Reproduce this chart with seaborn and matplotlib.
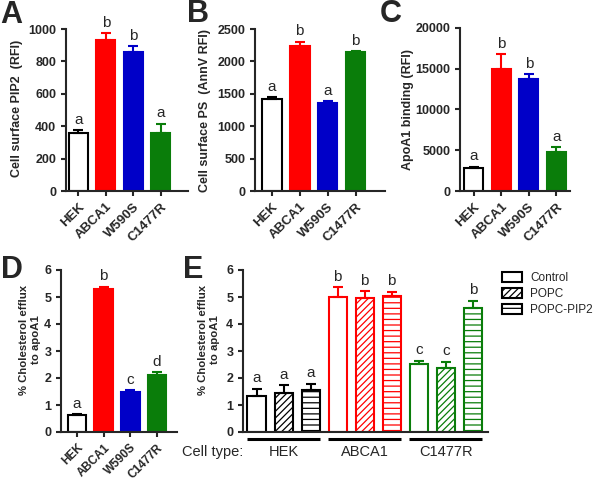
import matplotlib
matplotlib.use("Agg")
from matplotlib import pyplot as plt
from matplotlib.patches import Patch
import matplotlib.transforms as mtransforms
import seaborn as sns
import pandas as pd

# data
cells = ["HEK", "ABCA1", "W590S", "C1477R"]
pip2_mean = [360, 935, 855, 360]
pip2_err = [15, 40, 40, 55]
pip2_sig = ["a", "b", "b", "a"]

ps_mean = [1420, 2230, 1360, 2140]
ps_err = [25, 70, 25, 15]
ps_sig = ["a", "b", "a", "b"]

apoa1_mean = [2800, 15000, 13800, 4800]
apoa1_err = [150, 1800, 500, 600]
apoa1_sig = ["a", "b", "b", "a"]

efflux_mean = [0.62, 5.3, 1.5, 2.12]
efflux_err = [0.03, 0.08, 0.05, 0.1]
efflux_sig = ["a", "b", "c", "d"]

e_cells = ["HEK", "ABCA1", "C1477R"]
treatments = ["Control", "POPC", "POPC-PIP2"]
e_mean = {"Control": [1.35, 5.0, 2.52], "POPC": [1.45, 4.95, 2.38], "POPC-PIP2": [1.57, 5.02, 4.6]}
e_err = {"Control": [0.25, 0.37, 0.12], "POPC": [0.28, 0.27, 0.22], "POPC-PIP2": [0.22, 0.17, 0.27]}
e_sig = {"Control": ["a", "b", "c"], "POPC": ["a", "b", "c"], "POPC-PIP2": ["a", "b", "b"]}

RED, BLUE, GREEN = "#ff0000", "#0000c8", "#0a7d0a"
cell_colors = {"HEK": "black", "ABCA1": RED, "W590S": BLUE, "C1477R": GREEN}
hatches = {"Control": "", "POPC": "/////", "POPC-PIP2": "---"}

sns.set_style("ticks")
plt.rcParams["font.family"] = ["Liberation Sans", "DejaVu Sans"]
plt.rcParams["hatch.linewidth"] = 0.9
plt.rcParams["axes.linewidth"] = 1.5
plt.rcParams["xtick.major.width"] = 1.5
plt.rcParams["ytick.major.width"] = 1.5
plt.rcParams["xtick.major.size"] = 3.5
plt.rcParams["ytick.major.size"] = 3.5

W, H = 600, 480
fig = plt.figure(figsize=(6, 4.8), dpi=100)


def rect(l, t, r, b):
    return [l / W, 1 - b / H, (r - l) / W, (b - t) / H]


def add_sig(ax, x, top, letter):
    ax.annotate(letter, (x, top), xytext=(0, 2.5), textcoords="offset points",
                ha="center", va="bottom", fontsize=11)


def simple_panel(box, means, errs, sigs, ylim, step, xlim, ylabel, label_xy,
                 xsize=9.5, label_size=9):
    ax = fig.add_axes(rect(*box))
    df = pd.DataFrame({"cell": cells, "value": means})
    sns.barplot(data=df, x="cell", y="value", hue="cell", palette=cell_colors,
                legend=False, errorbar=None, width=0.7, ax=ax)
    for patch, c in zip(ax.patches, cells):
        col = cell_colors[c]
        patch.set_facecolor("white" if c == "HEK" else col)
        patch.set_edgecolor(col)
        patch.set_linewidth(1.5)
    for i, c in enumerate(cells):
        col = cell_colors[c]
        ax.errorbar(i, means[i], yerr=[[0], [errs[i]]], color=col, lw=1.5,
                    capsize=3.5, capthick=1.5, zorder=1)
        add_sig(ax, i, means[i] + errs[i], sigs[i])
    ax.set_ylim(*ylim)
    ax.set_yticks(range(ylim[0], ylim[1] + 1, step))
    ax.set_xlim(*xlim)
    ax.set_xlabel("")
    ax.set_ylabel(ylabel, fontsize=label_size, fontweight="bold", linespacing=1.25)
    ax.yaxis.set_label_coords(*label_xy)
    sns.despine(ax=ax)
    ax.tick_params(axis="y", labelsize=9)
    ax.tick_params(axis="x", labelsize=xsize)
    for t in ax.get_yticklabels():
        t.set_fontweight("bold")
    for t in ax.get_xticklabels():
        t.set_fontweight("bold")
        t.set_rotation(45)
        t.set_ha("right")
        t.set_rotation_mode("anchor")
    return ax


simple_panel((66, 29, 188, 191), pip2_mean, pip2_err, pip2_sig, (0, 1000), 200,
             (-0.45, 4.0), "Cell surface PIP2  (RFI)", (-0.354, 0.51))
simple_panel((255, 29, 385, 191), ps_mean, ps_err, ps_sig, (0, 2500), 500,
             (-0.6, 4.05), "Cell surface PS  (AnnV RFI)", (-0.339, 0.5))
simple_panel((460, 28, 570, 191), apoa1_mean, apoa1_err, apoa1_sig, (0, 20000), 5000,
             (-0.5, 3.5), "ApoA1 binding (RFI)", (-0.42, 0.5))
simple_panel((61, 270, 177, 432), efflux_mean, efflux_err, efflux_sig, (0, 6), 1,
             (-0.6, 3.75), "% Cholesterol efflux\nto apoA1", (-0.176, 0.57),
             xsize=8.5, label_size=8.2)

# panel E
axE = fig.add_axes(rect(243, 270, 488, 432))
rows = []
for t in treatments:
    for c, m in zip(e_cells, e_mean[t]):
        rows.append({"cell": c, "treatment": t, "value": m})
dfE = pd.DataFrame(rows)
sns.barplot(data=dfE, x="cell", y="value", hue="treatment", hue_order=treatments,
            order=e_cells, errorbar=None, width=1.0, gap=0.33, legend=False, ax=axE)
for t, cont in zip(treatments, axE.containers):
    for j, patch in enumerate(cont):
        col = cell_colors[e_cells[j]]
        patch.set_facecolor("white")
        patch.set_edgecolor(col)
        patch.set_linewidth(1.5)
        patch.set_hatch(hatches[t])
        xc = patch.get_x() + patch.get_width() / 2
        m, e = e_mean[t][j], e_err[t][j]
        axE.errorbar(xc, m, yerr=[[0], [e]], color=col, lw=1.5, capsize=3.5,
                     capthick=1.5, zorder=1)
        add_sig(axE, xc, m + e, e_sig[t][j])
axE.set_ylim(0, 6)
axE.set_yticks(range(0, 7))
axE.set_xlim(-0.5, 2.52)
axE.set_xticks([])
axE.set_xlabel("")
axE.set_ylabel("% Cholesterol efflux\nto apoA1", fontsize=8.2, fontweight="bold",
               linespacing=1.25)
axE.yaxis.set_label_coords(-0.095, 0.57)
sns.despine(ax=axE)
axE.tick_params(labelsize=9)
for t in axE.get_yticklabels():
    t.set_fontweight("bold")

trans = mtransforms.blended_transform_factory(axE.transData, axE.transAxes)
for j, c in enumerate(e_cells):
    axE.plot([j - 0.45, j + 0.45], [-0.045, -0.045], color="black", lw=2.2,
             transform=trans, clip_on=False, solid_capstyle="butt")
    axE.text(j, -0.125, c, transform=trans, ha="center", va="center", fontsize=10.5)
axE.text(-0.25, -0.125, "Cell type:", transform=axE.transAxes, ha="left",
         va="center", fontsize=10.5)

handles = [Patch(facecolor="white", edgecolor="black", hatch=hatches[t], linewidth=1.5, label=t)
           for t in treatments]
fig.legend(handles=handles, loc="upper left", bbox_to_anchor=(502 / W, 1 - 272 / H),
           frameon=False, fontsize=8.5, handlelength=1.7, handleheight=0.85,
           handletextpad=0.7, labelspacing=0.35, borderpad=0, borderaxespad=0)

# panel letters
for letter, (px, py) in {"A": (11, 15), "B": (198, 14), "C": (391, 14),
                         "D": (12, 270), "E": (193, 270)}.items():
    fig.text(px / W, 1 - py / H, letter, ha="center", va="center",
             fontsize=22, fontweight="bold")

fig.savefig("out.png", dpi=100)
